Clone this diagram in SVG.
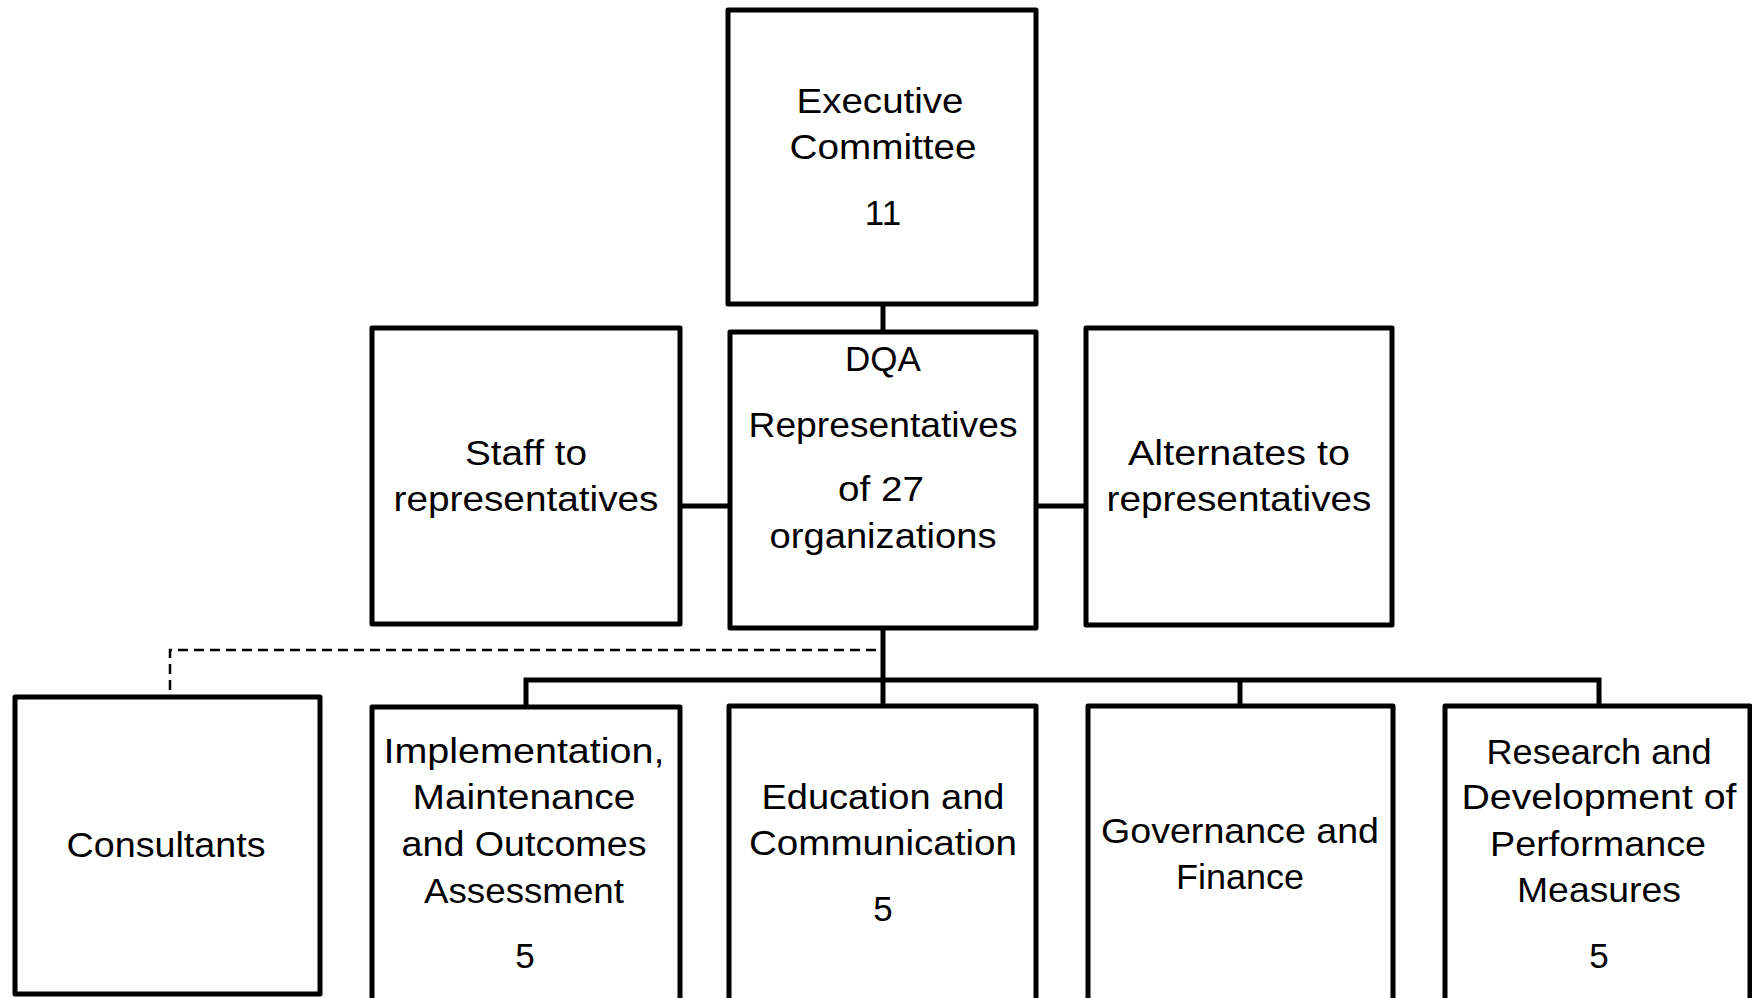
<svg xmlns="http://www.w3.org/2000/svg" width="1752" height="998" viewBox="0 0 1752 998">
<style>
.box{fill:#fff;stroke:#000;stroke-width:5;stroke-linejoin:round}
.ln{fill:none;stroke:#000;stroke-width:5}
.dash{fill:none;stroke:#000;stroke-width:2.5;stroke-dasharray:10 6}
text{font-family:"Liberation Sans",Arial,sans-serif;font-size:35px;fill:#000;text-anchor:middle}
</style>
<rect width="1752" height="998" fill="#fff"/>
<g id="connectors">
<line class="ln" x1="883" y1="304" x2="883" y2="332"/>
<line class="ln" x1="680" y1="506" x2="730" y2="506"/>
<line class="ln" x1="1036" y1="506" x2="1086" y2="506"/>
<polyline class="dash" points="876,650 170,650 170,697"/>
<line class="ln" x1="883" y1="628" x2="883" y2="706"/>
<polyline class="ln" points="526,707 526,680 1599,680 1599,707"/>
<line class="ln" x1="1240" y1="680" x2="1240" y2="707"/>
</g>
<g id="exec">
<rect class="box" x="728" y="10" width="308" height="294"/>
<text x="880" y="113" textLength="167" lengthAdjust="spacingAndGlyphs">Executive</text>
<text x="883" y="159" textLength="187" lengthAdjust="spacingAndGlyphs">Committee</text>
<text x="883" y="225">11</text>
</g>
<g id="dqa">
<rect class="box" x="730" y="332" width="306" height="296"/>
<text x="883" y="371">DQA</text>
<text x="883" y="437" textLength="269" lengthAdjust="spacingAndGlyphs">Representatives</text>
<text x="881" y="501" textLength="86" lengthAdjust="spacingAndGlyphs">of 27</text>
<text x="883" y="548" textLength="227" lengthAdjust="spacingAndGlyphs">organizations</text>
</g>
<g id="staff">
<rect class="box" x="372" y="328" width="308" height="296"/>
<text x="526" y="465" textLength="122" lengthAdjust="spacingAndGlyphs">Staff to</text>
<text x="526" y="511" textLength="265" lengthAdjust="spacingAndGlyphs">representatives</text>
</g>
<g id="alternates">
<rect class="box" x="1086" y="328" width="306" height="297"/>
<text x="1239" y="465" textLength="222" lengthAdjust="spacingAndGlyphs">Alternates to</text>
<text x="1239" y="511" textLength="265" lengthAdjust="spacingAndGlyphs">representatives</text>
</g>
<g id="consultants">
<rect class="box" x="15" y="697" width="305" height="297"/>
<text x="166" y="857" textLength="199" lengthAdjust="spacingAndGlyphs">Consultants</text>
</g>
<g id="implementation">
<rect class="box" x="372" y="707" width="308" height="320"/>
<text x="524" y="763" textLength="281" lengthAdjust="spacingAndGlyphs">Implementation,</text>
<text x="524" y="809" textLength="223" lengthAdjust="spacingAndGlyphs">Maintenance</text>
<text x="524" y="856" textLength="245" lengthAdjust="spacingAndGlyphs">and Outcomes</text>
<text x="524" y="903" textLength="200" lengthAdjust="spacingAndGlyphs">Assessment</text>
<text x="525" y="968">5</text>
</g>
<g id="education">
<rect class="box" x="729" y="706" width="307" height="320"/>
<text x="883" y="809" textLength="243" lengthAdjust="spacingAndGlyphs">Education and</text>
<text x="883" y="855" textLength="268" lengthAdjust="spacingAndGlyphs">Communication</text>
<text x="883" y="921">5</text>
</g>
<g id="governance">
<rect class="box" x="1088" y="706" width="305" height="320"/>
<text x="1240" y="843" textLength="278" lengthAdjust="spacingAndGlyphs">Governance and</text>
<text x="1240" y="889" textLength="128" lengthAdjust="spacingAndGlyphs">Finance</text>
</g>
<g id="research">
<rect class="box" x="1445" y="706" width="305" height="320"/>
<text x="1599" y="764" textLength="225" lengthAdjust="spacingAndGlyphs">Research and</text>
<text x="1599" y="809" textLength="275" lengthAdjust="spacingAndGlyphs">Development of</text>
<text x="1598" y="856" textLength="216" lengthAdjust="spacingAndGlyphs">Performance</text>
<text x="1599" y="902" textLength="164" lengthAdjust="spacingAndGlyphs">Measures</text>
<text x="1599" y="968">5</text>
</g>
</svg>
